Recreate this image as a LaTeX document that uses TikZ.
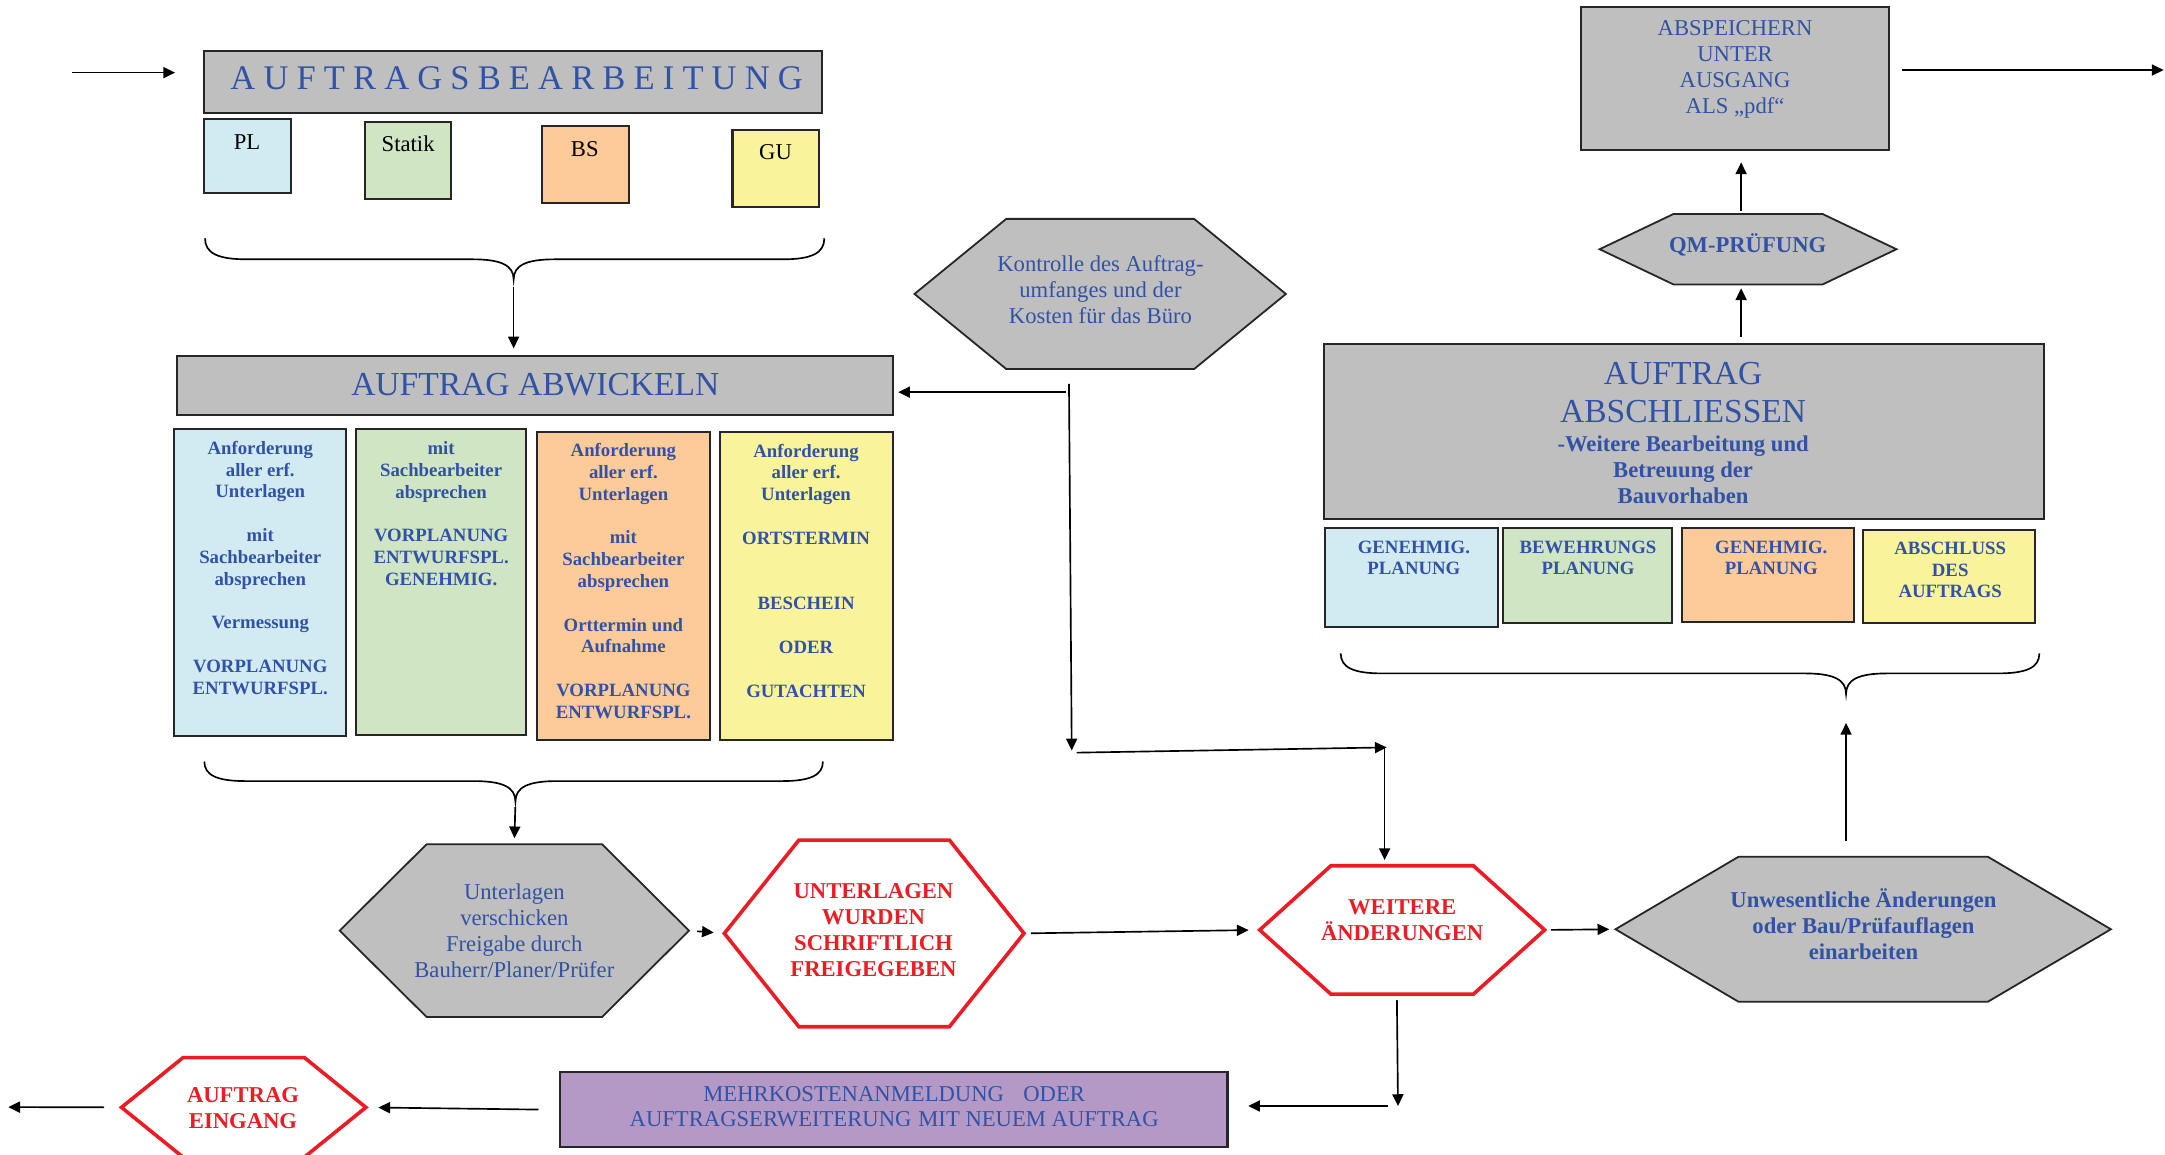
\documentclass[tikz,border=0pt]{standalone}
\usepackage{fontspec}
\setmainfont{Liberation Serif}
\usetikzlibrary{arrows.meta}
\definecolor{tblue}{RGB}{50,82,165}
\definecolor{hred}{RGB}{237,28,36}
\definecolor{cgray}{RGB}{191,191,191}
\definecolor{cblue}{RGB}{210,235,243}
\definecolor{cgreen}{RGB}{208,229,195}
\definecolor{corange}{RGB}{253,203,153}
\definecolor{cyellow}{RGB}{249,243,156}
\definecolor{cpurple}{RGB}{180,153,199}
\newcommand\fN{\fontsize{16.4}{18.8}\selectfont}
\newcommand\fS{\fontsize{13.6}{15.8}\selectfont\bfseries}
\newcommand\fR{\fontsize{13.6}{15.5}\selectfont\bfseries}
\newcommand\fL{\fontsize{24.3}{27.8}\selectfont}
% rectangle node: name, x1, y1, x2, y2, fill
\newcommand\rbx[6]{\node[rbox, fill=#6, minimum width={#4-#2}, minimum height={#5-#3}] (#1) at (#2,#3) {};}
% hexagon: name, cx, cy, half width, half top width, half height, style
\newcommand\hexshape[7]{%
  \coordinate (#1-W) at ({#2-#4},#3);
  \coordinate (#1-E) at ({#2+#4},#3);
  \coordinate (#1-N) at (#2,{#3-#6});
  \coordinate (#1-S) at (#2,{#3+#6});
  \draw[#7] ({#2-#4},#3) -- ({#2-#5},{#3-#6}) -- ({#2+#5},{#3-#6}) -- ({#2+#4},#3) -- ({#2+#5},{#3+#6}) -- ({#2-#5},{#3+#6}) -- cycle;}
% brace: x1, x2, xtip, ytop, ylevel, ytip
\newcommand\hbrace[6]{%
  \draw[bracel] (#1,#4) .. controls (#1,{#4+0.7*(#5-#4)}) and ({#1+9},#5) .. ({#1+30},#5)
    -- ({#3-30},#5) .. controls ({#3-9},#5) and (#3,{#5+0.3*(#6-#5)}) .. (#3,#6)
    .. controls (#3,{#5+0.3*(#6-#5)}) and ({#3+9},#5) .. ({#3+30},#5)
    -- ({#2-30},#5) .. controls ({#2-9},#5) and (#2,{#4+0.7*(#5-#4)}) .. (#2,#4);}
\begin{document}
\begin{tikzpicture}[x=1pt,y=-1pt,
  arr/.style={-{Triangle[length=8.5pt,width=8pt]}, line width=1.2pt, draw=black},
  rbox/.style={draw=black!85, line width=1.5pt, inner sep=0pt, outer sep=0pt, anchor=north west},
  ghex/.style={fill=cgray, draw=black!85, line width=1.3pt, line join=miter},
  rhex/.style={fill=white, draw=hred, line width=2.6pt, line join=miter},
  bracel/.style={line width=1.2pt, draw=black},
  btxt/.style={text=tblue, align=center, inner sep=0pt, font=\fN},
  bbtxt/.style={text=tblue, align=center, inner sep=0pt, font=\fN\bfseries},
  rtxt/.style={text=hred, align=center, inner sep=0pt, font=\fN\bfseries},
  stxt/.style={text=tblue, align=center, inner sep=0pt, font=\fS},
  qtxt/.style={text=tblue, align=center, inner sep=0pt, font=\fR},
  ktxt/.style={text=black, inner sep=0pt, font=\fN}
]
\useasboundingbox (0,0) rectangle (1568,836);
\fill[white] (0,0) rectangle (1568,836);

% ---------- rectangles ----------
\rbx{R1}{147.6}{36.7}{595.4}{82.1}{cgray}
\rbx{pl}{147.6}{86.4}{210.8}{140}{cblue}
\rbx{st}{264.4}{88.6}{326.8}{144.4}{cgreen}
\rbx{bs}{392.5}{91.5}{455.3}{147.3}{corange}
\rbx{gu}{530.5}{93.9}{593.3}{149.7}{cyellow}
\rbx{abw}{128}{257.8}{646.5}{300.6}{cgray}
\rbx{t1}{126.2}{310.7}{250.8}{533}{cblue}
\rbx{t2}{257.9}{310.7}{381.1}{532.3}{cgreen}
\rbx{t3}{388.8}{312.7}{514.2}{536}{corange}
\rbx{t4}{521.2}{312.7}{646.5}{536}{cyellow}
\rbx{absch}{958.7}{249.4}{1480.2}{375.7}{cgray}
\rbx{r1}{959.5}{382.4}{1084.6}{454.4}{cblue}
\rbx{r2}{1088.6}{382.4}{1211}{451.5}{cgreen}
\rbx{r3}{1218}{382.4}{1343}{450.3}{corange}
\rbx{r4}{1349}{383.6}{1474}{451.5}{cyellow}
\rbx{absp}{1145}{4.8}{1368.2}{108.6}{cgray}
\rbx{mk}{405.8}{776.6}{889}{831}{cpurple}

% ---------- hexagons ----------
\hexshape{K}{796.8}{212.9}{134.5}{68}{54.4}{ghex}
\hexshape{QM}{1266}{180.5}{107.5}{54}{25.5}{ghex}
\hexshape{C}{372.5}{674}{126.5}{63.5}{62.6}{ghex}
\hexshape{D}{633.1}{676}{108.5}{54.5}{67.6}{rhex}
\hexshape{E}{1015.5}{673.5}{103.2}{51.6}{46.5}{rhex}
\hexshape{F}{1349.4}{673}{179.4}{90.3}{52.5}{ghex}
\hexshape{G}{176.5}{802}{88.5}{44}{36}{rhex}

% ---------- texts ----------
\node[text=tblue, inner sep=0pt, font=\fontsize{25}{30}\selectfont] (R1t) at (374.2,56.7)
  {A\kern5.9pt U\kern5.9pt F\kern5.9pt T\kern5.9pt R\kern5.9pt A\kern5.9pt G\kern5.9pt S\kern5.9pt B\kern5.9pt E\kern5.9pt A\kern5.9pt R\kern5.9pt B\kern5.9pt E\kern5.9pt I\kern5.9pt T\kern5.9pt U\kern5.9pt N\kern5.9pt G};
\node[ktxt] (plt) at (178.9,102.6) {PL};
\node[ktxt] (stt) at (295.6,104.3) {Statik};
\node[ktxt] (bst) at (423.5,107.9) {BS};
\node[ktxt] (gut) at (561.7,110.3) {GU};
\node[text=tblue, inner sep=0pt, font=\fL] (abwt) at (387.7,278.8) {AUFTRAG ABWICKELN};

\node[stxt] (t1t) at (188.5,411.2) {Anforderung\\aller erf.\\Unterlagen\\~\\mit\\Sachbearbeiter\\absprechen\\~\\Vermessung\\~\\VORPLANUNG\\ENTWURFSPL.};
\node[stxt] (t2t) at (319.5,372) {mit\\Sachbearbeiter\\absprechen\\~\\VORPLANUNG\\ENTWURFSPL.\\GENEHMIG.};
\node[stxt] (t3t) at (451.5,420.8) {Anforderung\\aller erf.\\Unterlagen\\~\\mit\\Sachbearbeiter\\absprechen\\~\\Orttermin und\\Aufnahme\\~\\VORPLANUNG\\ENTWURFSPL.};
\node[stxt] (t4t) at (583.8,413.2) {Anforderung\\aller erf.\\Unterlagen\\~\\ORTSTERMIN\\~\\~\\BESCHEIN\\~\\ODER\\~\\GUTACHTEN};

\node[btxt] (Kt) at (797,209.6) {Kontrolle des Auftrag-\\umfanges und der\\Kosten für das Büro};
\node[bbtxt] (QMt) at (1265.7,177.5) {QM-PRÜFUNG};
\node[btxt] (abspt) at (1256.6,50.4) {ABSPEICHERN\\UNTER\\AUSGANG\\ALS „pdf“};
\node[text=tblue, align=center, inner sep=0pt, font=\fL] (abscht) at (1219,284.3) {AUFTRAG\\ABSCHLIESSEN};
\node[bbtxt] (abscht2) at (1219,340.2) {-Weitere Bearbeitung und\\Betreuung der\\Bauvorhaben};
\node[qtxt] (r1t) at (1024,404.2) {GENEHMIG.\\PLANUNG};
\node[qtxt] (r2t) at (1150.1,404.2) {BEWEHRUNGS\\PLANUNG};
\node[qtxt] (r3t) at (1282.8,404.2) {GENEHMIG.\\PLANUNG};
\node[qtxt] (r4t) at (1412.4,413) {ABSCHLUSS\\DES\\AUFTRAGS};

\node[btxt] (Ct) at (372.5,674.4) {Unterlagen\\verschicken\\Freigabe durch\\Bauherr/Planer/Prüfer};
\node[rtxt] (Dt) at (632.6,673.9) {UNTERLAGEN\\WURDEN\\SCHRIFTLICH\\FREIGEGEBEN};
\node[rtxt] (Et) at (1015.5,666.5) {WEITERE\\ÄNDERUNGEN};
\node[bbtxt] (Ft) at (1349.6,669.1) {Unwesentliche Änderungen\\oder Bau/Prüfauflagen\\einarbeiten};
\node[btxt] (mkt) at (647.6,801.5) {MEHRKOSTENANMELDUNG\hspace{14pt}ODER\\AUFTRAGSERWEITERUNG\hspace{5pt}MIT NEUEM AUFTRAG};
\node[rtxt] (Gt) at (176,802.7) {AUFTRAG\\EINGANG};

% ---------- braces ----------
\hbrace{148.5}{597}{372}{172.6}{187.8}{202.4}
\hbrace{148}{596}{373.3}{551.5}{565.7}{580.6}
\hbrace{971}{1477}{1337}{473.2}{487.7}{502.6}
\coordinate (b1tip) at (372,202.4);
\coordinate (b2tip) at (373.3,580.6);
\coordinate (b3tip) at (1337,502.6);

% ---------- connectors ----------
\coordinate (cIn) at (52,52.6);
\draw[arr, shorten >=20.8pt] (cIn) -- (cIn -| R1.west);
\coordinate (cOut) at (1567,50.7);
\draw[arr, shorten <=9.4pt] (cOut -| absp.east) -- (cOut);
\draw[arr, shorten <=5.6pt, shorten >=5.5pt] (b1tip) -- (b1tip |- abw.north);
\draw[arr, shorten <=4pt, shorten >=4.3pt] (b2tip) -- (C-N);
\draw[arr, shorten <=6pt, shorten >=7.7pt] (C-E) -- (D-W);
\draw[arr, shorten <=5pt, shorten >=8pt] (D-E) -- (E-W);
\draw[arr, shorten <=4.5pt, shorten >=4.5pt] (E-E) -- (F-W);
\draw[arr, shorten <=11.6pt, shorten >=21pt] (b3tip |- F-N) -- (b3tip);
\coordinate (qx) at (1261,0);
\draw[arr, shorten <=5.6pt, shorten >=2.8pt] (qx |- absch.north) -- (qx |- QM-S);
\draw[arr, shorten <=2.4pt, shorten >=9pt] (qx |- QM-N) -- (qx |- absp.south);
% Kontrolle branch
\coordinate (kv1) at (774.2,278);
\coordinate (kv2) at (776.2,543.5);
\draw[arr] (kv1) -- (kv2);
\coordinate (kh) at (771.8,284);
\draw[arr, shorten >=4pt] (kh) -- (kh -| abw.east);
\coordinate (kr1) at (779.8,545.1);
\coordinate (kr2) at (1004.3,541.3);
\draw[arr] (kr1) -- (kr2);
\coordinate (kd) at (1002.8,540.8);
\draw[arr, shorten >=4.1pt] (kd) -- (kd |- E-N);
% lower branch
\coordinate (ed1) at (1011.7,724.3);
\coordinate (ed2) at (1012.5,801);
\draw[arr] (ed1) -- (ed2);
\coordinate (el) at (1005,801);
\draw[arr, shorten >=15pt] (el) -- (el -| mk.east);
\draw[arr, shorten <=15.8pt, shorten >=9pt] (mk.west) -- (G-E);
\coordinate (gout) at (6,801.8);
\draw[arr, shorten <=12.6pt] (G-W) -- (gout);
\end{tikzpicture}
\end{document}
